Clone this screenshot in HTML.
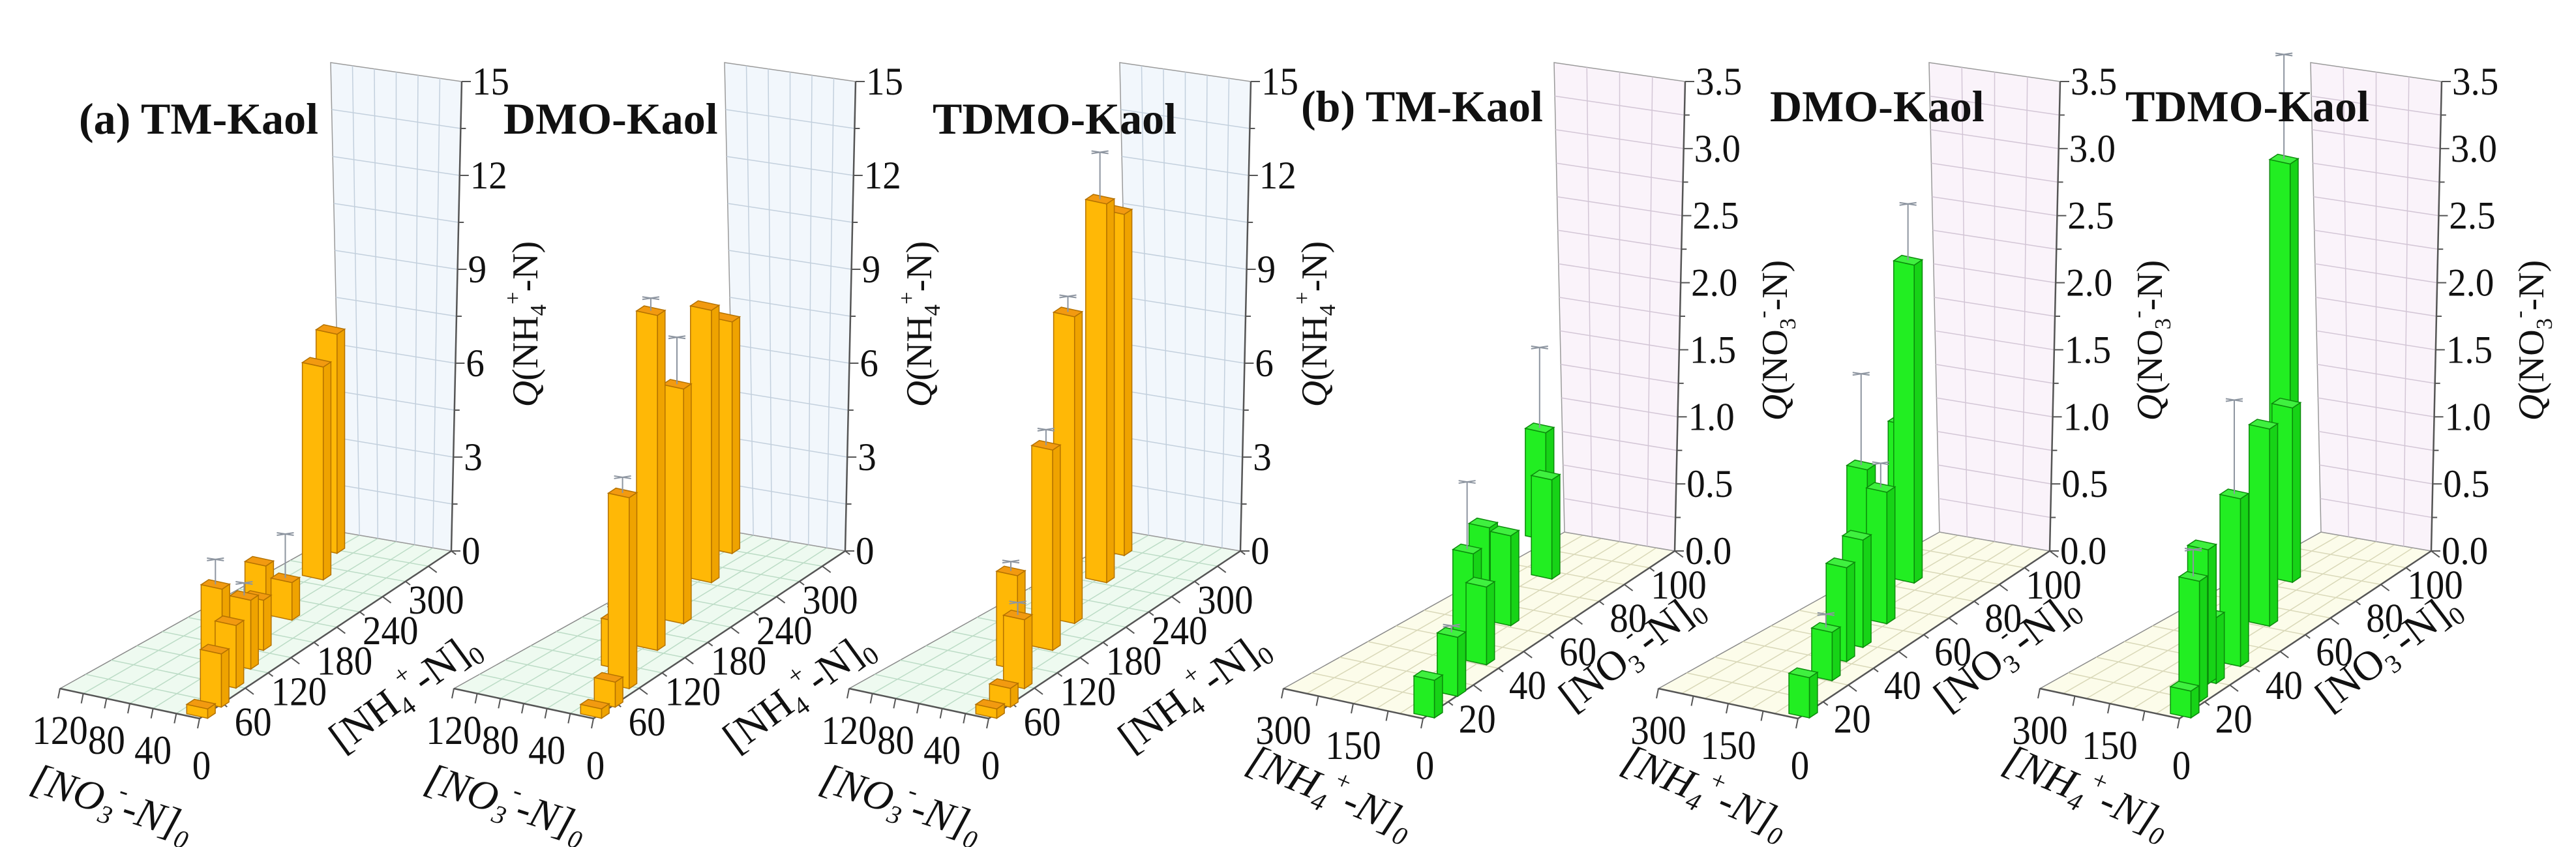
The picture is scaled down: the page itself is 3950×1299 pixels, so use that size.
<!DOCTYPE html>
<html><head><meta charset="utf-8"><style>
html,body{margin:0;padding:0;background:#fff;}
svg{display:block;}
text{font-family:"Liberation Serif",serif;fill:#111;}
</style></head><body>
<svg id="fig" width="3950" height="1299" viewBox="0 0 3950 1299">
<rect x="0" y="0" width="3950" height="1299" fill="#fff"/>
<g id="layer"></g>
<g font-weight="bold" font-size="68">
<text x="121" y="205" style="font-weight:bold">(a) TM-Kaol</text>
<text x="772" y="205" style="font-weight:bold">DMO-Kaol</text>
<text x="1430" y="205" style="font-weight:bold">TDMO-Kaol</text>
<text x="1995" y="186" style="font-weight:bold">(b) TM-Kaol</text>
<text x="2714" y="186" style="font-weight:bold">DMO-Kaol</text>
<text x="3259" y="186" style="font-weight:bold">TDMO-Kaol</text>
</g>
</svg>
<script>
// ---- data (a: Q(NH4+-N); b: Q(NO3--N)) ----
const tmA_nh4=[8,29,65,62,95,127,188,181,251,295];
const tmA_no3=[4,6,29,15,24,34,72,45,64,81];
const tmA_q=[0.3,1.7,3.0,2.0,2.2,1.6,1.4,1.2,6.8,7.0];
const tmA_err=[0,0,0.8,0,0.4,0,0,1.4,0,0];

const dmoA_nh4=[8,29,61,87,127,175,245,295];
const dmoA_no3=[4,6,15,38,34,43,65,80];
const dmoA_q=[0.3,0.8,6.1,1.5,10.7,7.5,8.7,7.4];
const dmoA_err=[0,0,0.5,0.4,0.4,1.5,0,0];

const tdmoA_nh4=[8,29,61,87,127,174,245,291];
const tdmoA_no3=[4,6,15,38,34,46,65,80];
const tdmoA_q=[0.3,0.6,2.2,3.0,6.4,9.8,12.1,10.9];
const tdmoA_err=[0,0,0.4,0.3,0.5,0.5,1.5,0];

const tmB_no3=[3,15,36,32,62,52,94,77];
const tmB_nh4=[5,20,100,50,206,106,258,153];
const tmB_q=[0.28,0.44,0.74,0.58,0.53,0.67,0.8,0.74];
const tmB_err=[0,0.05,0.5,0,0,0,0.6,0];

const dmoB_no3=[3,22,32,40,60,53,84,74];
const dmoB_nh4=[5,59,82,90,189,109,230,164];
const dmoB_q=[0.3,0.36,0.7,0.8,1.0,0.98,1.0,2.37];
const dmoB_err=[0,0.1,0,0,0.68,0.18,0,0.42];

const tdmoB_no3=[3,11,21,20,31,52,60,84,74];
const tdmoB_nh4=[5,30,48,60,50,101,150,230,171];
const tdmoB_q=[0.2,0.9,0.49,1.0,1.25,1.47,0.55,2.95,1.3];
const tdmoB_err=[0,0.2,0,0,0.7,0,0,0.78,0];

const aTicksNH4=[60,120,180,240,300];
const aTicksNO3=[0,40,80,120];
const aTicksQ=[0,3,6,9,12,15];
const bTicksNO3=[20,40,60,80,100];
const bTicksNH4=[0,150,300];
const bTicksQ=[0,0.5,1,1.5,2,2.5,3,3.5];

const panels=[
 {key:'a-tm',type:'a',ox:306,nh4:tmA_nh4,no3:tmA_no3,q:tmA_q,err:tmA_err},
 {key:'a-dmo',type:'a',ox:910,nh4:dmoA_nh4,no3:dmoA_no3,q:dmoA_q,err:dmoA_err},
 {key:'a-tdmo',type:'a',ox:1516,nh4:tdmoA_nh4,no3:tdmoA_no3,q:tdmoA_q,err:tdmoA_err},
 {key:'b-tm',type:'b',ox:2182,nh4:tmB_nh4,no3:tmB_no3,q:tmB_q,err:tmB_err},
 {key:'b-dmo',type:'b',ox:2757,nh4:dmoB_nh4,no3:dmoB_no3,q:dmoB_q,err:dmoB_err},
 {key:'b-tdmo',type:'b',ox:3342,nh4:tdmoB_nh4,no3:tdmoB_no3,q:tdmoB_q,err:tdmoB_err}
];

const svg=document.getElementById('fig');
const NS=svg.namespaceURI;
const layer=document.getElementById('layer');
function mk(tag,attrs,parent){const e=document.createElementNS(NS,tag);for(const k in attrs)e.setAttribute(k,attrs[k]);parent.appendChild(e);return e;}
const pts=a=>a.map(p=>p[0].toFixed(1)+','+p[1].toFixed(1)).join(' ');

function addParts(t,parts){
  for(const p of parts){
    const s=mk('tspan',{},t);
    s.textContent=p.t;
    if(p.sub){s.setAttribute('baseline-shift','sub');s.setAttribute('font-size','62%');}
    if(p.sup){s.setAttribute('baseline-shift','super');s.setAttribute('font-size','62%');}
    if(p.it)s.setAttribute('font-style','italic');
  }
}

function drawPanel(P){
  const isA=P.type==='a';
  const g=mk('g',{},layer);
  
  
  const O=[P.ox,1102],Av=[386,-257],Bv=[-214,-46],Dv=[45,17];
  const Ra=isA?330:100,Rb=isA?120:300,vmax=isA?15:3.5,vs=720/vmax;
  const f=(s,t)=>[O[0]+s*Av[0]+t*Bv[0]+s*t*Dv[0],O[1]+s*Av[1]+t*Bv[1]+s*t*Dv[1]];
  const bp=(s,t)=>[O[0]+s*Av[0]+t*Bv[0],O[1]+s*Av[1]+t*Bv[1]];
  const wall=(t,h)=>{const b=f(1,t);return [b[0]+(16-32*t)*h/vmax,b[1]-h*vs];};
  const floorFill=isA?'#eefaf0':'#fcfcea',floorLine=isA?'#bcdcc6':'#d9d8b8';
  const wallFill=isA?'#f2f7fc':'#faf3fa',wallLine=isA?'#c3d0dd':'#d3c6d6';

  const floor=mk('polygon',{points:pts([f(0,0),f(1,0),f(1,1),f(0,1)]),fill:floorFill,stroke:'#8a8a8a','stroke-width':1.5},g);
  
  
  const stepA=isA?30:10,stepB=isA?20:50;
  for(let v=stepA;v<Ra;v+=stepA){const a=f(v/Ra,0),b=f(v/Ra,1);mk('line',{x1:a[0],y1:a[1],x2:b[0],y2:b[1],stroke:floorLine,'stroke-width':1.5},g);}
  for(let v=stepB;v<Rb;v+=stepB){const a=f(0,v/Rb),b=f(1,v/Rb);mk('line',{x1:a[0],y1:a[1],x2:b[0],y2:b[1],stroke:floorLine,'stroke-width':1.5},g);}

  const w=mk('polygon',{points:pts([wall(0,0),wall(1,0),wall(1,vmax),wall(0,vmax)]),fill:wallFill,stroke:'#9a9a9a','stroke-width':1.5},g);
  
  
  const hStep=isA?1.5:0.25;
  for(let h=hStep;h<vmax-1e-6;h+=hStep){const a=wall(0,h),b=wall(1,h);mk('line',{x1:a[0],y1:a[1],x2:b[0],y2:b[1],stroke:wallLine,'stroke-width':1.5},g);}
  const cols=isA?6:4;
  for(let k=1;k<cols;k++){const a=wall(k/cols,0),b=wall(k/cols,vmax);mk('line',{x1:a[0],y1:a[1],x2:b[0],y2:b[1],stroke:wallLine,'stroke-width':1.5},g);}

  const o=f(0,0),ae=f(1,0),be=f(0,1),zt=wall(0,vmax);
  const ax1=mk('line',{x1:o[0],y1:o[1],x2:ae[0],y2:ae[1],stroke:'#555','stroke-width':2.5},g);
  
  
  const ax2=mk('line',{x1:o[0],y1:o[1],x2:be[0],y2:be[1],stroke:'#555','stroke-width':2.5},g);
  
  
  const ax3=mk('line',{x1:ae[0],y1:ae[1],x2:zt[0],y2:zt[1],stroke:'#555','stroke-width':2.5},g);
  
  

  const tA=isA?aTicksNH4:bTicksNO3, tB=isA?aTicksNO3:bTicksNH4, tQ=isA?aTicksQ:bTicksQ;
  const minorA=isA?30:10;
  for(let v=minorA;v<=Ra;v+=minorA){const p=f(v/Ra,0);const len=(tA.indexOf(v)>=0)?16:9;mk('line',{x1:p[0],y1:p[1],x2:p[0]+len*0.8,y2:p[1]+len*0.6,stroke:'#555','stroke-width':2},g);}
  for(const v of tA){
    const p=f(v/Ra,0);
    const t=mk('text',{transform:'translate('+(p[0]+(isA?12:6))+','+(p[1]+52)+') scale(0.92,1)','text-anchor':'middle','dominant-baseline':'central','font-size':62},g);
    t.textContent=String(v);
    
    
  }
  const minorB=isA?20:75;
  for(let v=0;v<=Rb;v+=minorB){const p=f(0,v/Rb);mk('line',{x1:p[0],y1:p[1],x2:p[0]-3,y2:p[1]+15,stroke:'#555','stroke-width':2},g);}
  for(const v of tB){
    const p=f(0,v/Rb);
    const t=mk('text',{transform:'translate('+(p[0]+(v===0?3:0))+','+(p[1]+(v===0?72:64))+') scale(0.92,1)','text-anchor':'middle','dominant-baseline':'central','font-size':62},g);
    t.textContent=String(v);
    
    
  }
  const minorQ=isA?1.5:0.25;
  for(let h=0;h<=vmax+1e-6;h+=minorQ){const p=wall(0,h);const major=tQ.some(x=>Math.abs(x-h)<1e-6);mk('line',{x1:p[0],y1:p[1],x2:p[0]+(major?14:8),y2:p[1],stroke:'#555','stroke-width':2},g);}
  for(const v of tQ){
    const p=wall(0,v);
    const t=mk('text',{transform:'translate('+(p[0]+16)+','+p[1]+') scale(0.95,1)','dominant-baseline':'central','font-size':60},g);
    t.textContent=isA?String(v):v.toFixed(1);
    
    
  }

  const pa=isA?P.nh4:P.no3, pb=isA?P.no3:P.nh4;
  const ha=isA?5:1.6, hb=isA?9:22;
  const order=pa.map((_,i)=>i).sort((i,j)=>bp(pa[i]/Ra,pb[i]/Rb)[1]-bp(pa[j]/Ra,pb[j]/Rb)[1]);
  const cFront=isA?'#ffb806':'#22ee22',cSide=isA?'#efa300':'#17d317',cTop=isA?'#f29a10':'#3ff03f',cEdge=isA?'#b47200':'#0b8a0b';
  for(const i of order){
    const s0=(pa[i]-ha)/Ra,s1=(pa[i]+ha)/Ra,t0=(pb[i]-hb)/Rb,t1=(pb[i]+hb)/Rb;
    const H=P.q[i]*vs;
    const P00=bp(s0,t0),P01=bp(s0,t1),P10=bp(s1,t0),P11=bp(s1,t1);
    const up=p=>[p[0],p[1]-H];
    const bg=mk('g',{},g);
    
    
    mk('polygon',{points:pts([P00,P10,up(P10),up(P00)]),fill:cSide,stroke:cEdge,'stroke-width':1.5},bg);
    mk('polygon',{points:pts([P01,P00,up(P00),up(P01)]),fill:cFront,stroke:cEdge,'stroke-width':1.5},bg);
    mk('polygon',{points:pts([up(P00),up(P10),up(P11),up(P01)]),fill:cTop,stroke:cEdge,'stroke-width':1.5},bg);
    if(P.err[i]>0){
      const c=bp(pa[i]/Ra,pb[i]/Rb);
      const y0=c[1]-H,y1=y0-P.err[i]*vs;
      const e=mk('g',{stroke:'#8d95a0','stroke-width':2},g);
      
      
      mk('line',{x1:c[0],y1:y0,x2:c[0],y2:y1},e);
      mk('line',{x1:c[0]-13,y1:y1-2,x2:c[0]+13,y2:y1+2},e);
      mk('line',{x1:c[0]-13,y1:y1+2,x2:c[0]+13,y2:y1-2},e);
    }
  }

  const rightTitle=mk('text',{transform:'translate('+(P.ox+(isA?313:318))+','+(isA?1060:998)+') rotate('+(isA?-36:-37)+')','text-anchor':'middle','dominant-baseline':'central','font-size':64},g);
  
  
  const leftTitle=mk('text',{transform:'translate('+(P.ox+(isA?-134:-142))+','+(isA?1230:1213)+') rotate('+(isA?18:23)+')','text-anchor':'middle','dominant-baseline':'central','font-size':64,'font-style':'italic'},g);
  
  
  const nh4Parts=[{t:'[NH'},{t:'4',sub:1},{t:'+',sup:1},{t:'-N]'},{t:'0',sub:1}];
  const no3Parts=[{t:'[NO'},{t:'3',sub:1},{t:'-',sup:1},{t:'-N]'},{t:'0',sub:1}];
  addParts(rightTitle,isA?nh4Parts:no3Parts);
  addParts(leftTitle,isA?no3Parts:nh4Parts);
  const qTitle=mk('text',{transform:'translate('+(P.ox+(isA?500:540))+','+(isA?497:522)+') rotate(-90)','text-anchor':'middle','dominant-baseline':'central','font-size':56},g);
  
  
  addParts(qTitle,isA?[{t:'Q',it:1},{t:'(NH'},{t:'4',sub:1},{t:'+',sup:1},{t:'-N)'}]:[{t:'Q',it:1},{t:'(NO'},{t:'3',sub:1},{t:'-',sup:1},{t:'-N)'}]);
}
panels.forEach(drawPanel);
</script>
</body></html>
